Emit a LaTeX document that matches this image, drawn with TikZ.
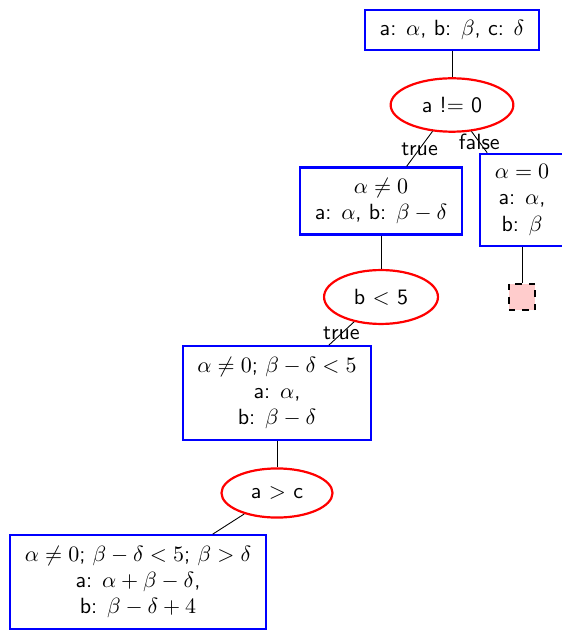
\documentclass[tikz,border=0pt]{standalone}
\usepackage{amsmath, amssymb}
\usepackage{tikz}
\usetikzlibrary{shapes.geometric}
\renewcommand{\familydefault}{\sfdefault}

\begin{document}
\begin{tikzpicture}[
  x=0.4545pt, y=-0.4545pt,
  state/.style={draw=blue, line width=1pt, rectangle, align=center,
                inner xsep=6.6pt, inner ysep=4.8pt},
  test/.style={draw=red, line width=1pt, ellipse, inner xsep=6pt, inner ysep=5pt},
  stub/.style={draw, thick, dashed, fill=red!20, minimum size=12pt, inner sep=0pt}
]
  \useasboundingbox (0,0) rectangle (561,630);

  % ── first test ──
  \node[state] (root) at (452, 30) {a: $\alpha$, b: $\beta$, c: $\delta$};
  \node[test]  (t1)   at (452, 105) {a != 0};
  \node[state] (s2)   at (381, 201) {$\alpha \neq 0$\\a: $\alpha$, b: $\beta - \delta$};
  \node[state] (s3)   at (522, 200) {$\alpha = 0$\\a: $\alpha$,\\b: $\beta$};
  \node[stub]  (x1)   at (522, 297) {};

  % ── second test ──
  \node[test]  (t2)   at (381, 297) {b $<$ 5};
  \node[state] (s4)   at (277, 393)
    {$\alpha \neq 0$; $\beta - \delta < 5$\\a: $\alpha$,\\b: $\beta - \delta$};

  % ── third test ──
  \node[test]  (t3)   at (277, 493) {a $>$ c};
  \node[state] (s5)   at (138, 582)
    {$\alpha \neq 0$; $\beta - \delta < 5$; $\beta > \delta$\\a: $\alpha + \beta - \delta$,\\b: $\beta - \delta + 4$};

  \draw (root) -- (t1);
  \draw (t1) -- node{true} (s2);
  \draw (t1) -- node{false} (s3);
  \draw (s2) -- (t2);
  \draw (s3) -- (x1);
  \draw (t2) -- node{true} (s4);
  \draw (s4) -- (t3);
  \draw (t3) -- (s5);
\end{tikzpicture}
\end{document}
